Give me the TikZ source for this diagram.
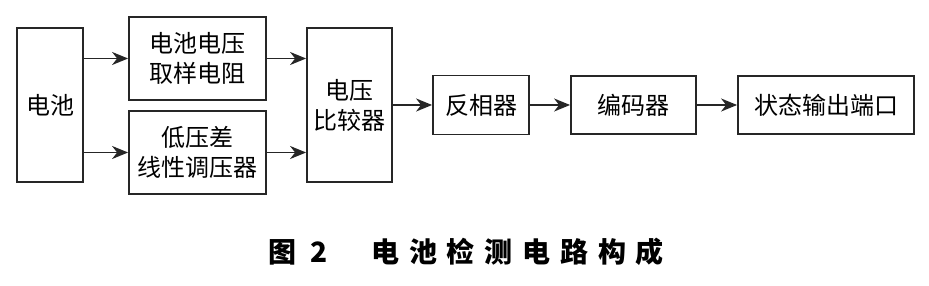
\documentclass[tikz,border=0pt]{standalone}
\usepackage{fontspec}
\newfontfamily\cjk{Noto Sans CJK SC}
\usetikzlibrary{arrows.meta}
\begin{document}
\begin{tikzpicture}[x=1pt,y=1pt,
  >={Stealth[length=16pt,width=13pt,inset=5pt]},
  blk/.style={draw=black!85,line width=1.8pt,inner sep=0pt,font=\cjk\fontsize{24}{30}\selectfont,align=center},
  conn/.style={draw=black!85,line width=1.8pt,->}]
\useasboundingbox (0,0) rectangle (929,286);
\node[blk,minimum width=66pt,minimum height=154pt] (bat) at (50,181) {电池};
\node[blk,minimum width=137pt,minimum height=83pt] (samp) at (197.5,227.5) {电池电压\\取样电阻};
\node[blk,minimum width=137pt,minimum height=83pt] (ldo) at (197.5,133.5) {低压差\\线性调压器};
\node[blk,minimum width=85pt,minimum height=154pt] (cmp) at (349.5,181) {电压\\比较器};
\node[blk,minimum width=96pt,minimum height=59pt] (inv) at (481,181) {反相器};
\node[blk,minimum width=125pt,minimum height=58pt] (enc) at (633.5,181) {编码器};
\node[blk,minimum width=176pt,minimum height=58pt] (out) at (826,181) {状态输出端口};
\draw[conn] (bat.east |- samp) -- (samp.west);
\draw[conn] (bat.east |- ldo) -- (ldo.west);
\draw[conn] (samp.east) -- (cmp.west |- samp);
\draw[conn] (ldo.east) -- (cmp.west |- ldo);
\draw[conn] (cmp.east |- inv) -- (inv.west);
\draw[conn] (inv.east) -- (enc.west);
\draw[conn] (enc.east) -- (out.west);
\node[font=\cjk\bfseries\fontsize{28}{30}\selectfont,anchor=west,inner sep=0pt] (cap) at (268,34) {图\hspace{14pt}2\hspace{44pt}\addfontfeature{LetterSpace=35}电池检测电路构成};
\end{tikzpicture}
\end{document}
